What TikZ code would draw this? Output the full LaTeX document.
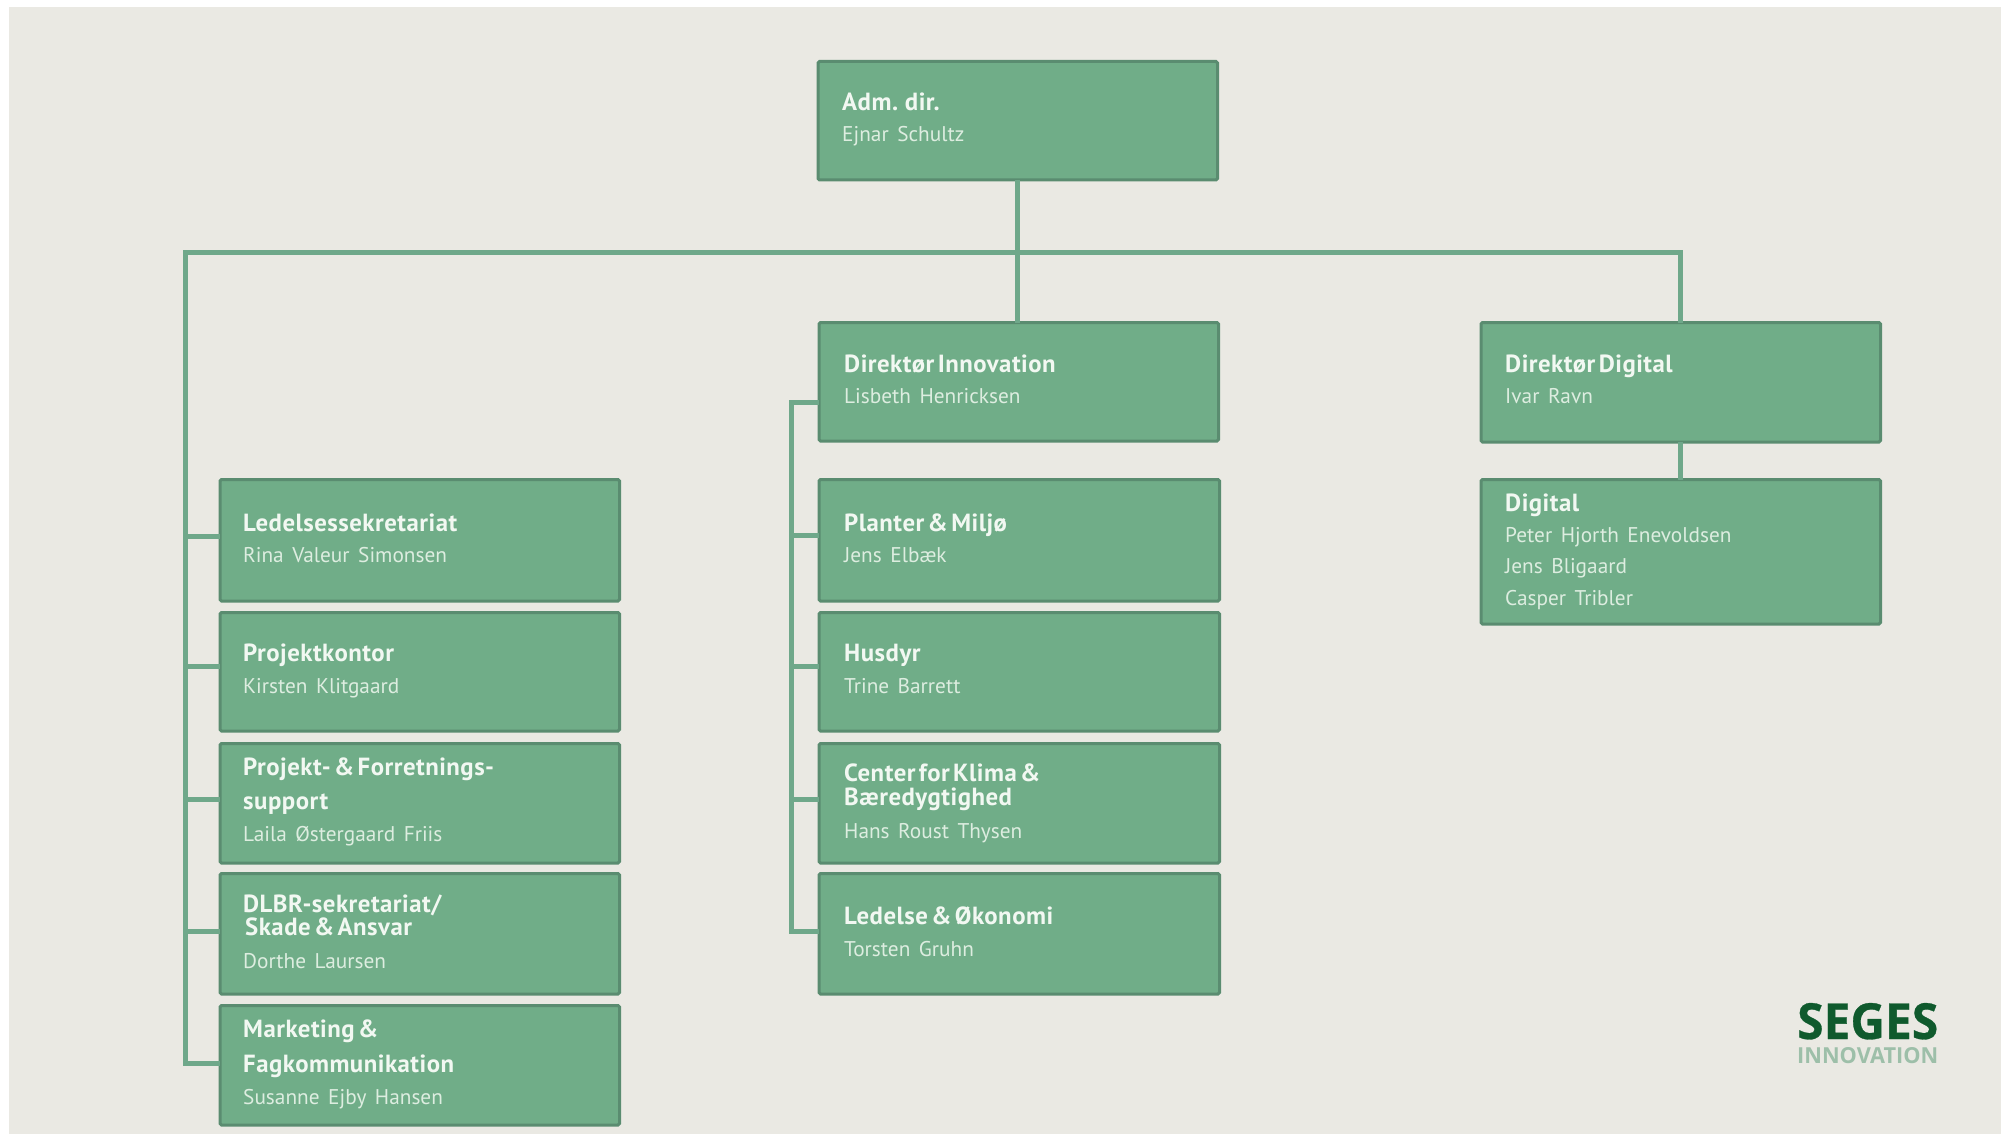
\documentclass[tikz,border=0pt]{standalone}
\usepackage{fontspec}
\setmainfont{PT Sans}
\newfontfamily\logoheavy[UprightFont=* Bold,FakeBold=0.6]{Open Sans}
\newfontfamily\logobold[UprightFont=* Bold]{Open Sans}
\newfontfamily\titlefont[LetterSpace=2,WordSpace=0.5]{PT Sans}
\newfontfamily\namefont[WordSpace=1.5]{PT Sans}
\definecolor{pagebg}{HTML}{EAE9E3}
\definecolor{boxfill}{HTML}{70AD88}
\definecolor{boxedge}{HTML}{5A8C70}
\definecolor{linkcol}{HTML}{6FA88A}
\definecolor{titlecol}{HTML}{F2F8F2}
\definecolor{namecol}{HTML}{DDEDE0}
\definecolor{logodark}{HTML}{0F5A2D}
\definecolor{logolight}{HTML}{9DBFA9}
\tikzset{
  orgbox/.style={draw=boxedge,fill=boxfill,line width=3pt,rounded corners=1.5pt,inner sep=0pt,outer sep=0pt,anchor=north west},
  titletext/.style={anchor=base west,inner sep=0pt,text=titlecol,font=\titlefont\fontsize{24.8}{25}\selectfont\bfseries},
  nametext/.style={anchor=base west,inner sep=0pt,text=namecol,font=\namefont\fontsize{21.3}{21}\selectfont},
  link/.style={draw=linkcol,line width=5pt,line join=miter}
}
\newcommand{\orgnode}[5]{\node[orgbox,minimum width=#4pt-#2pt-2.5pt,minimum height=#5pt-#3pt-1.5pt] (#1) at (#2+1,#3+1.5) {};}
\begin{document}
\begin{tikzpicture}[x=1pt,y=-1pt]
\useasboundingbox (0,0) rectangle (2001,1134);
\fill[white] (0,0) rectangle (2001,1134);
\fill[pagebg] (9,7) rectangle (2001,1134);
\coordinate (hl) at (185,252);
\coordinate (hr) at (1680,252);
\coordinate (trunkin) at (791,402);
\orgnode{adm}{817}{60}{1219}{180}
\orgnode{dinn}{818}{321}{1220}{441}
\orgnode{ddig}{1480}{321}{1882}{442}
\orgnode{dig}{1480}{478}{1882}{624}
\orgnode{led}{219}{478}{621}{601}
\orgnode{prk}{219}{611}{621}{731}
\orgnode{pfs}{219}{742}{621}{863}
\orgnode{dlb}{219}{872}{621}{994}
\orgnode{mar}{219}{1004}{621}{1125}
\orgnode{pla}{818}{478}{1221}{601}
\orgnode{hus}{818}{611}{1221}{731}
\orgnode{cen}{818}{742}{1221}{863}
\orgnode{loe}{818}{872}{1221}{994}
% connectors
\draw[link] (adm.south) -- (adm.south |- dinn.north);
\draw[link] (led.west |- 0,536) -- (185,536);
\draw[link] (prk.west |- 0,666) -- (185,666);
\draw[link] (pfs.west |- 0,799) -- (185,799);
\draw[link] (dlb.west |- 0,931) -- (185,931);
\draw[link] (mar.west |- 0,1063) -- (185,1063) -- (hl) -- (hr) -- (hr |- ddig.north);
\draw[link] (dinn.west |- trunkin) -- (trunkin) -- (791,931) -- (loe.west |- 0,931);
\draw[link] (pla.west |- 0,535) -- (791,535);
\draw[link] (hus.west |- 0,666) -- (791,666);
\draw[link] (cen.west |- 0,799) -- (791,799);
\draw[link] (hr |- ddig.south) -- (hr |- dig.north);
% texts
\node[titletext] (t1) at (842,111) {Adm.\ \ dir.};
\node[nametext] (n1) at (842,142) {Ejnar Schultz};
\node[titletext] (t2) at (844,372) {Direktør Innovation};
\node[nametext] (n2) at (844,403) {Lisbeth Henricksen};
\node[titletext] (t3) at (1505,372) {Direktør Digital};
\node[nametext] (n3) at (1505,403) {Ivar Ravn};
\node[titletext] (t4) at (1505,511) {Digital};
\node[nametext] (n4) at (1505,542) {Peter Hjorth Enevoldsen};
\node[nametext] (n4b) at (1505,573) {Jens Bligaard};
\node[nametext] (n4c) at (1505,605) {Casper Tribler};
\node[titletext] (t5) at (243,531) {Ledelsessekretariat};
\node[nametext] (n5) at (243,562) {Rina Valeur Simonsen};
\node[titletext] (t6) at (243,661) {Projektkontor};
\node[nametext] (n6) at (243,693) {Kirsten Klitgaard};
\node[titletext] (t7) at (243,775) {Projekt- \& Forretnings-};
\node[titletext] (t7b) at (243,809) {support};
\node[nametext] (n7) at (243,841) {Laila Østergaard Friis};
\node[titletext] (t8) at (243,912) {DLBR-sekretariat/};
\node[titletext] (t8b) at (245,935) {Skade \& Ansvar};
\node[nametext] (n8) at (243,968) {Dorthe Laursen};
\node[titletext] (t9) at (243,1037) {Marketing \&};
\node[titletext] (t9b) at (243,1072) {Fagkommunikation};
\node[nametext] (n9) at (243,1104) {Susanne Ejby Hansen};
\node[titletext] (t10) at (844,531) {Planter \& Miljø};
\node[nametext] (n10) at (844,562) {Jens Elbæk};
\node[titletext] (t11) at (844,661) {Husdyr};
\node[nametext] (n11) at (844,693) {Trine Barrett};
\node[titletext] (t12) at (844,781) {Center for Klima \&};
\node[titletext] (t12b) at (844,805) {Bæredygtighed};
\node[nametext] (n12) at (844,838) {Hans Roust Thysen};
\node[titletext] (t13) at (844,924) {Ledelse \& Økonomi};
\node[nametext] (n13) at (844,956) {Torsten Gruhn};
% logo
\node[anchor=base west,inner sep=0pt,text=logodark] (logo1) at (1797,1039) {\resizebox{141pt}{36pt}{\logoheavy SEGES}};
\node[anchor=base west,inner sep=0pt,text=logolight] (logo2) at (1797,1063) {\resizebox{141pt}{16pt}{\logobold INNOVATION}};
\end{tikzpicture}
\end{document}
